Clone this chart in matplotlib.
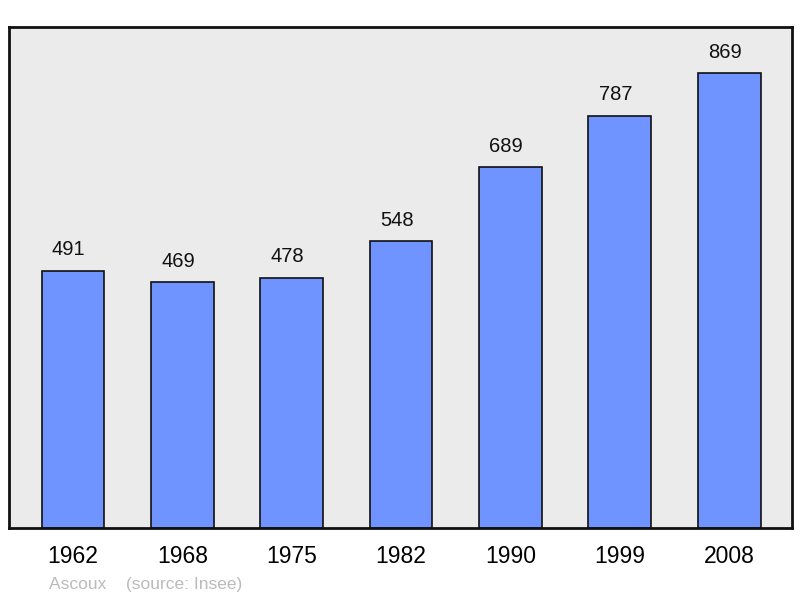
import matplotlib
matplotlib.use("Agg")
import matplotlib.pyplot as plt

years = ["1962", "1968", "1975", "1982", "1990", "1999", "2008"]
population = [491, 469, 478, 548, 689, 787, 869]

plt.rcParams['font.family'] = ['Liberation Sans', 'DejaVu Sans']

fig = plt.figure(figsize=(8, 5.98), dpi=100)
ax = fig.add_axes([9/800, 1 - 528/598, 783/800, 501/598])
ax.set_facecolor('#ebebeb')
x = list(range(len(years)))
ax.bar(x, population, width=0.575, color='#7094ff', edgecolor='#111111', linewidth=1.2, zorder=2)
for xi, v in zip(x, population):
    ax.text(xi - 0.04, v + 22, str(v), ha='center', va='bottom', fontsize=14.5, color='#111111')
ax.set_xlim(-0.585, 6.575)
ax.set_ylim(0, 957)
ax.set_yticks([])
ax.set_xticks(x)
ax.set_xticklabels(years, fontsize=16.5)
ax.tick_params(axis='x', length=0, pad=12)
for s in ax.spines.values():
    s.set_linewidth(2)
    s.set_color('#111111')
fig.text(49/800, 1 - 584/598, "Ascoux    (source: Insee)", fontsize=12.5, color='#bbbbbb', va='center', ha='left')
fig.savefig("out.png", dpi=100)
